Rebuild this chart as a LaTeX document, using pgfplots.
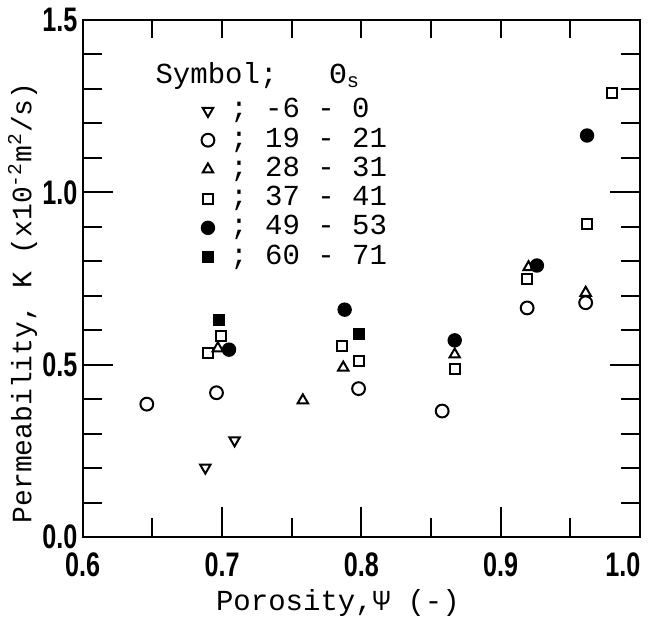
\documentclass[border=0pt]{standalone}
\usepackage{fontspec}
\setmainfont{Liberation Mono}
\newfontfamily\tickfont{Liberation Sans}[FakeStretch=0.74]
\usepackage{pgfplots}
\pgfplotsset{compat=1.18}
\usetikzlibrary{calc}

\pgfplotstableread{
x y
0.688 0.202
0.709 0.281
}\tabA
\pgfplotstableread{
x y
0.646 0.386
0.696 0.419
0.798 0.431
0.858 0.366
0.919 0.665
0.961 0.680
}\tabB
\pgfplotstableread{
x y
0.697 0.548
0.758 0.397
0.787 0.492
0.867 0.530
0.920 0.783
0.961 0.709
}\tabC
\pgfplotstableread{
x y
0.690 0.534
0.699 0.583
0.786 0.554
0.798 0.511
0.867 0.487
0.919 0.750
0.962 0.907
0.980 1.289
}\tabD
\pgfplotstableread{
x y
0.705 0.544
0.788 0.660
0.867 0.571
0.926 0.788
0.962 1.165
}\tabE
\pgfplotstableread{
x y
0.698 0.629
0.798 0.590
}\tabF

\begin{document}
\begin{tikzpicture}
\begin{axis}[
  name=main,
  scale only axis, width=278.5pt, height=258.5pt,
  xmin=0.6, xmax=1.0, ymin=0, ymax=1.5,
  xtick={0.6,0.7,0.8,0.9,1.0}, minor x tick num=1,
  xticklabels={0.6,0.7,0.8,0.9,\hspace*{-17pt}1.0},
  ytick={0,0.5,1.0,1.5}, minor y tick num=4,
  tick align=inside, xtick pos=left, ytick pos=both,
  major tick length=15pt, minor tick length=9.5pt,
  axis line style={line width=1.2pt},
  every tick/.style={black, line width=1pt},
  /pgf/number format/.cd, fixed, fixed zerofill, precision=1, assume math mode=true,
  /pgfplots/.cd,
  tick label style={font=\tickfont\bfseries\fontsize{17}{19}\selectfont},
  x tick label style={yshift=-4pt},
  y tick label style={inner xsep=2.5pt},
  xlabel={Porosity,Ψ (-)},
  ylabel={Permeability, K (x10\textsuperscript{-2}m\textsuperscript{2}/s)},
  x label style={font=\fontsize{14.5}{16}\selectfont, at={(axis description cs:0.458,0)}, anchor=base, yshift=-36.5pt},
  y label style={font=\fontsize{14}{16}\selectfont, at={(axis description cs:-0.092,0.453)}, anchor=base},
  legend style={at={(axis cs:0.685,1.275)}, anchor=north west, draw=none, fill=none,
    inner sep=0pt, row sep=1.6pt, column sep=7pt,
    font=\fontsize{14.5}{16}\selectfont,
    nodes={inner ysep=0pt, inner xsep=1pt, text height=10pt, text depth=3pt}},
  legend cell align=left,
  legend image code/.code={\draw[#1] plot coordinates {(0pt,0pt)};},
]
\addplot[only marks, mark=triangle, mark size=3pt, line width=1pt, mark options={rotate=180}] table {\tabA};
\addlegendentry{; -6 -\phantom{2}0}
\addplot[only marks, mark=o, mark size=3.2pt, line width=1pt] table {\tabB};
\addlegendentry{; 19 - 21}
\addplot[only marks, mark=triangle, mark size=3pt, line width=1pt] table {\tabC};
\addlegendentry{; 28 - 31}
\addplot[only marks, mark=square, mark size=2.5pt, line width=1pt] table {\tabD};
\addlegendentry{; 37 - 41}
\addplot[only marks, mark=*, mark size=3.2pt, line width=0.8pt, fill=black] table {\tabE};
\addlegendentry{; 49 - 53}
\addplot[only marks, mark=square*, mark size=2.6pt, line width=0.8pt, fill=black] table {\tabF};
\addlegendentry{; 60 - 71}
\node[anchor=base west, font=\fontsize{14.5}{16}\selectfont, inner sep=0pt]
  at (axis cs:0.652,1.316) {Symbol;\hspace{26pt}Θ\textsubscript{s}};
\end{axis}
\begin{axis}[
  scale only axis, width=278.5pt, height=258.5pt,
  xmin=0.6, xmax=1.0, ymin=0, ymax=1.5,
  hide y axis,
  xtick={0.65,0.7,0.75,0.8,0.85,0.9,0.95}, xticklabels={},
  tick align=inside, xtick pos=right,
  major tick length=9pt,
  axis line style={line width=1.2pt},
  every tick/.style={black, line width=1pt},
]
\end{axis}
\pgfresetboundingbox
\useasboundingbox ($(main.south west)+(-41.35pt,-41.5pt)$) rectangle ($(main.north east)+(6pt,10pt)$);
\end{tikzpicture}
\end{document}
